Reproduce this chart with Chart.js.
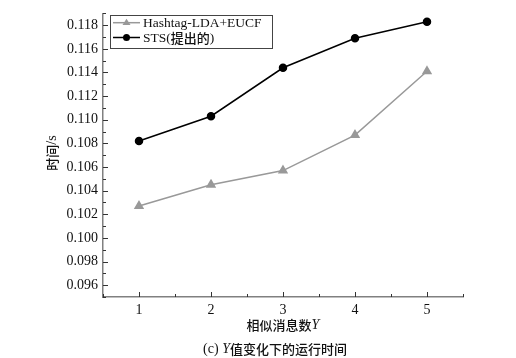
<!DOCTYPE html>
<html><head><meta charset="utf-8">
<script src="https://cdn.jsdelivr.net/npm/chart.js@4/dist/chart.umd.min.js"></script>
<style>html,body{margin:0;padding:0;background:#fff;}#wrap{width:516px;height:358px;position:relative;}</style>
</head><body><div id="wrap"><canvas id="c" width="516" height="358"></canvas></div>
<script>
const categories = [1, 2, 3, 4, 5];
const hashtagValues = [0.1027, 0.1045, 0.1057, 0.1087, 0.1141];
const stsValues = [0.1082, 0.1103, 0.1144, 0.1169, 0.1183];
const seriesNames = ['Hashtag-LDA+EUCF', 'STS(提出的)'];
const yTickLabels = ['0.096','0.098','0.100','0.102','0.104','0.106','0.108','0.110','0.112','0.114','0.116','0.118'];
const xTickLabels = ['1','2','3','4','5'];

const SERIF = '"Liberation Serif", "Times New Roman", serif';
const CJK = '"Noto Sans CJK SC", sans-serif';
const AXIS = '#808080';

function drawMixed(ctx, parts, cx, cy) {
  let total = 0;
  parts.forEach(p => { ctx.font = p.font; p.w = ctx.measureText(p.t).width; total += p.w; });
  let x = cx - total / 2;
  ctx.textBaseline = 'middle'; ctx.textAlign = 'left';
  parts.forEach(p => { ctx.font = p.font; ctx.fillText(p.t, x, cy); x += p.w; });
}

const decor = {
  id: 'decor',
  afterDraw(chart) {
    const ctx = chart.ctx, xs = chart.scales.x, ys = chart.scales.y;
    const ca = chart.chartArea;
    ctx.save();
    ctx.strokeStyle = '#333'; ctx.lineWidth = 1;
    for (let v = 0.5; v <= 5.5001; v += 0.5) {
      const px = Math.round(xs.getPixelForValue(v)) + 0.5;
      const major = Math.abs(v - Math.round(v)) < 1e-6;
      ctx.beginPath(); ctx.moveTo(px, ca.bottom); ctx.lineTo(px, ca.bottom - (major ? 5 : 3)); ctx.stroke();
    }
    for (let i = 95; i <= 119; i++) {
      const v = i / 1000;
      const py = Math.round(ys.getPixelForValue(v)) + 0.5;
      const major = i % 2 === 0;
      ctx.beginPath(); ctx.moveTo(ca.left, py); ctx.lineTo(ca.left + (major ? 5 : 3), py); ctx.stroke();
    }
    const lx = 110, ly = 15, lw = 162, lh = 33;
    ctx.strokeStyle = '#444'; ctx.lineWidth = 1;
    ctx.strokeRect(lx + 0.5, ly + 0.5, lw, lh);
    const rows = [22.7, 37.5];
    chart.data.datasets.forEach((ds, i) => {
      const y = rows[i];
      ctx.strokeStyle = ds.borderColor; ctx.lineWidth = 1.5;
      ctx.beginPath(); ctx.moveTo(113, y); ctx.lineTo(140, y); ctx.stroke();
      ctx.fillStyle = ds.pointBackgroundColor;
      if (ds.pointStyle === 'triangle') {
        const r = 4;
        ctx.beginPath(); ctx.moveTo(126.5, y - r); ctx.lineTo(126.5 + r, y + r * 0.6); ctx.lineTo(126.5 - r, y + r * 0.6); ctx.closePath(); ctx.fill();
      } else {
        ctx.beginPath(); ctx.arc(126.5, y, 3.5, 0, Math.PI * 2); ctx.fill();
      }
      ctx.fillStyle = '#111'; ctx.textBaseline = 'middle'; ctx.textAlign = 'left';
      if (i === 0) {
        ctx.font = '13.5px ' + SERIF; ctx.fillText(seriesNames[0], 143, y + 0.5);
      } else {
        ctx.font = '13.5px ' + SERIF; ctx.fillText('STS(', 143, y + 0.5);
        let w = ctx.measureText('STS(').width;
        ctx.font = '500 13px ' + CJK; ctx.fillText('提出的', 143 + w, y + 0.5);
        w += ctx.measureText('提出的').width;
        ctx.font = '13.5px ' + SERIF; ctx.fillText(')', 143 + w, y + 0.5);
      }
    });
    ctx.fillStyle = '#111';
    drawMixed(ctx, [{t:'相似消息数', font:'500 13px ' + CJK}, {t:'Y', font:'italic 14px ' + SERIF}], 283, 325);
    ctx.save();
    ctx.translate(52, 153); ctx.rotate(-Math.PI / 2);
    drawMixed(ctx, [{t:'时间', font:'500 13px ' + CJK}, {t:'/s', font:'14px ' + SERIF}], 0, 0);
    ctx.restore();
    drawMixed(ctx, [{t:'(c) ', font:'14px ' + SERIF}, {t:'Y', font:'italic 14px ' + SERIF}, {t:'值变化下的运行时间', font:'500 13px ' + CJK}], 275, 349);
    ctx.restore();
  }
};

new Chart(document.getElementById('c'), {
  type: 'line',
  data: {
    datasets: [
      { label: seriesNames[0], data: categories.map((c, i) => ({x: c, y: hashtagValues[i]})),
        borderColor: '#999999', backgroundColor: '#999999', pointBackgroundColor: '#999999', pointBorderColor: '#999999',
        pointStyle: 'triangle', pointRadius: 4.5, borderWidth: 1.5, tension: 0 },
      { label: seriesNames[1], data: categories.map((c, i) => ({x: c, y: stsValues[i]})),
        borderColor: '#000000', backgroundColor: '#000000', pointBackgroundColor: '#000000', pointBorderColor: '#000000',
        pointStyle: 'circle', pointRadius: 3.5, borderWidth: 1.5, tension: 0 }
    ]
  },
  options: {
    responsive: false, animation: false,
    layout: { padding: { top: 10, right: 53, left: 0, bottom: 0 } },
    plugins: { legend: { display: false }, tooltip: { enabled: false } },
    scales: {
      x: {
        type: 'linear', min: 0.5, max: 5.5,
        afterFit: s => { s.height = 61; },
        afterBuildTicks: s => { s.ticks = categories.map(v => ({value: v})); },
        ticks: { padding: 5, color: '#111', font: { family: SERIF, size: 14 }, maxRotation: 0,
          callback: (v) => xTickLabels[categories.indexOf(v)] },
        grid: { display: false, drawTicks: false },
        border: { display: true, color: AXIS, width: 1.5 }
      },
      y: {
        type: 'linear', min: 0.095, max: 0.119,
        afterFit: s => { s.width = 103; },
        afterBuildTicks: s => { s.ticks = yTickLabels.map(t => ({value: parseFloat(t)})); },
        ticks: { padding: 5, color: '#111', font: { family: SERIF, size: 14 },
          callback: (v) => yTickLabels.find(t => Math.abs(parseFloat(t) - v) < 1e-7) },
        grid: { display: false, drawTicks: false },
        border: { display: true, color: AXIS, width: 1.5 }
      }
    }
  },
  plugins: [decor]
});
</script></body></html>
